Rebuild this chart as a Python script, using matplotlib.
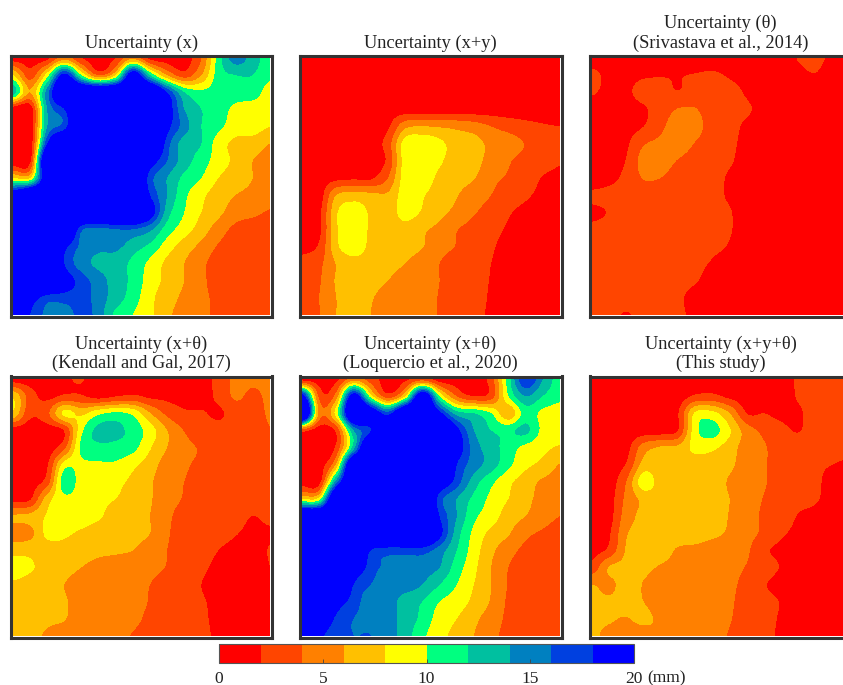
import numpy as np
import matplotlib as mpl
mpl.use('agg')
import matplotlib.pyplot as plt
from matplotlib.colors import ListedColormap, BoundaryNorm
from matplotlib.patches import Rectangle

plt.rcParams['font.family'] = ['Liberation Serif', 'DejaVu Serif']

W, H = 843, 685

levels = [0, 2, 4, 6, 8, 10, 12, 14, 16, 18, 20]
colors = ['#ff0000', '#ff4500', '#ff8000', '#ffc000', '#ffff00',
          '#00ff80', '#00c0a0', '#0080c0', '#0040e0', '#0000ff']
cbar_ticks = [0, 5, 10, 15, 20]

titles = ['Uncertainty (x)', 'Uncertainty (x+y)',
          'Uncertainty (θ)\n(Srivastava et al., 2014)',
          'Uncertainty (x+θ)\n(Kendall and Gal, 2017)',
          'Uncertainty (x+θ)\n(Loquercio et al., 2020)',
          'Uncertainty (x+y+θ)\n(This study)']

# values in mm, top row first, 16 x 16 samples per panel
u_x = [
    [1, 1, 1.5, 5, 2, 1, 2, 5.5, 1.5, 1, 1, 4, 11, 15, 13, 11],
    [8, 3, 9, 19, 10, 4, 8, 21, 12, 6, 3, 6, 11, 12, 12, 10.5],
    [13, 6, 15, 25, 25, 25, 25, 25, 25, 18, 12, 10.5, 11, 11, 11, 9],
    [0.5, 0.5, 14, 18, 25, 25, 25, 25, 25, 20, 14, 12, 11, 9.5, 9, 9],
    [0.5, 0.5, 14, 17, 25, 25, 25, 25, 25, 19, 15, 12, 10.5, 9, 9, 8],
    [0.5, 0.5, 18, 25, 25, 25, 25, 25, 25, 17, 13, 12, 9, 7.5, 7, 6],
    [0.5, 1.5, 25, 25, 25, 25, 25, 25, 20, 16, 13, 11, 9, 7.5, 6, 5.5],
    [8, 8, 22, 25, 25, 25, 25, 25, 17, 14, 11.5, 10, 8, 7, 6, 5.5],
    [21, 25, 25, 25, 25, 25, 25, 25, 18, 14, 10.5, 8.5, 7, 6, 5.5, 5],
    [25, 25, 25, 25, 25, 25, 25, 25, 20, 13, 10, 8, 6.5, 5, 4.5, 3.8],
    [25, 25, 25, 25, 16.5, 15.5, 16, 16, 14.5, 11, 9, 7, 5, 3.5, 3, 3],
    [25, 25, 25, 19, 15.5, 14.5, 14.5, 13, 11.5, 9, 7, 5.5, 3.8, 3, 3, 3],
    [25, 25, 25, 18, 15, 13.5, 13, 11.5, 9.5, 7.5, 6, 4.5, 3, 3, 3, 3],
    [25, 25, 25, 20, 17, 15, 13, 11.5, 9, 7.5, 6, 4.5, 3, 3, 3, 3],
    [25, 20, 17, 17, 17, 15, 13, 11, 8.5, 7, 5.5, 4.5, 3.5, 3, 3, 3],
    [25, 18, 15.5, 14.5, 17, 15, 11.5, 10, 8.5, 6.5, 5, 4.5, 3.5, 3, 3, 3],
]
u_xy = [
    [0.5] * 16,
    [0.5] * 16,
    [0.5] * 16,
    [1] * 16,
    [1, 1, 1, 1, 1, 1.7, 5.5, 6, 5.8, 5.5, 5, 4, 3.2, 2.6, 2.2, 2],
    [1, 1, 1, 1, 1, 3, 9, 9.5, 8.5, 7, 6.7, 5.5, 5, 3.9, 3, 2.7],
    [1, 1, 1, 1, 1, 2.5, 9, 9.5, 8.3, 7, 6.7, 5.2, 4.2, 3.3, 2.8, 2.2],
    [1, 1, 1.5, 1.7, 1.7, 4, 9, 9.2, 7.5, 6.7, 6.1, 4.5, 3.8, 3, 1.9, 1.5],
    [1, 1, 6, 6.8, 6.5, 6.3, 9, 8.2, 7, 6.1, 5, 4, 3, 2.3, 1.5, 1],
    [1, 1.5, 7.7, 9.2, 7.7, 7, 8.8, 7.8, 6.5, 5.5, 4.2, 3.2, 2.2, 1.5, 1, 1],
    [1, 1.5, 7.7, 9.4, 7.7, 7, 7.3, 6.3, 5.5, 4.1, 3.3, 2.5, 1.8, 1, 1, 1],
    [1.5, 2.3, 7.5, 9.2, 7.5, 7, 6.8, 6.1, 4.7, 3.9, 3, 2.2, 1.5, 1, 1, 1],
    [2.5, 3.5, 6.1, 7.2, 7, 6.6, 6, 5, 4, 3.2, 2.8, 2, 1.3, 1, 1, 1],
    [3, 3.8, 6.2, 7, 6.5, 6, 5.2, 4.8, 4, 3.2, 2.6, 1.9, 1, 1, 1, 1],
    [3, 4, 6, 6.5, 6.1, 5.5, 5.2, 4.6, 3.9, 3, 2.6, 1.8, 1, 1, 1, 1],
    [3, 3.9, 6, 6.4, 6, 5.3, 5, 4.6, 3.9, 3, 2.5, 1.7, 1, 1, 1, 1],
]
u_theta = [
    [1, 1, 1, 1, 1, 1, 1, 1, 1, 1, 1, 1, 2.1, 2.5, 1.5, 1],
    [2.5, 1.5, 1.5, 1.8, 1.9, 1.9, 2.1, 2.3, 1.8, 1.3, 1, 1, 1.5, 1.9, 1, 1],
    [2.2, 1.5, 1.7, 2.6, 2.6, 2.1, 2.8, 3, 2.6, 1.8, 1, 1, 1, 1, 1, 1],
    [1, 1, 1.3, 1.8, 2.8, 4.1, 4.1, 3, 2.6, 2.2, 1.5, 1, 1, 1, 1, 1],
    [1, 1, 1.3, 2, 3.5, 5.3, 4.8, 3, 2.5, 1.7, 1, 1, 1, 1, 1, 1],
    [1, 1, 1.7, 3.8, 4.5, 5.2, 3.9, 3, 2.4, 1.5, 1, 1, 1, 1, 1, 1],
    [1, 1.2, 2.1, 4.8, 5, 3.9, 3, 2.6, 2.2, 1.3, 1, 1, 1, 1, 1, 1],
    [1, 1.5, 2.5, 4.1, 4, 3, 2.8, 2.5, 1.8, 1, 1, 1, 1, 1, 1, 1],
    [2.3, 2.5, 2.8, 3, 3, 2.9, 2.7, 2.4, 1.8, 1, 1, 1, 1, 1, 1, 1],
    [1.7, 2.1, 2.8, 3, 3, 2.9, 2.7, 2.4, 2.1, 1.2, 1, 1, 1, 1, 1, 1],
    [2.3, 2.5, 2.7, 3, 3, 2.8, 2.6, 2.3, 2.1, 1.3, 1, 1, 1, 1, 1, 1],
    [2.5, 2.7, 2.8, 3, 3, 2.8, 2.5, 2.2, 1.9, 1, 1, 1, 1, 1, 1, 1],
    [2.5, 2.7, 2.8, 2.9, 2.8, 2.6, 2.3, 1.9, 1.5, 1, 1, 1, 1, 1, 1, 1],
    [2.6, 2.7, 2.7, 2.7, 2.6, 2.4, 2.1, 1.5, 1, 1, 1, 1, 1, 1, 1, 1],
    [2.5, 2.6, 2.6, 2.6, 2.4, 2.2, 1.6, 1.3, 1, 1, 1, 1, 1, 1, 1, 1],
    [2.5, 2.4, 1.9, 2.5, 2.4, 2.2, 1.7, 1, 1, 1, 1, 1, 1, 1, 1, 1],
]
u_x_theta_kendall = [
    [1, 1, 1, 1.7, 2.1, 1, 1, 1, 1, 1, 1, 1.5, 2.5, 4.5, 4.5, 4.5],
    [7.6, 3, 1.5, 2.3, 2.2, 1.2, 1.9, 2.3, 1.6, 1.5, 1.3, 1.2, 2.5, 4.3, 3.5, 4.5],
    [7.6, 2.5, 3.5, 8.5, 7.5, 9.5, 10.3, 9.5, 6.1, 3.5, 2.3, 2.2, 1.7, 2.9, 3, 4.3],
    [1, 1, 1, 2.2, 9.5, 12.6, 12.6, 11.2, 9, 6, 3.9, 3, 2.7, 2.8, 2.9, 3.9],
    [1, 1, 1, 3.5, 10.5, 11.5, 11.3, 10.6, 8.2, 6, 4.5, 3.8, 3, 3, 2.9, 3.4],
    [1, 1, 1.8, 9, 9.5, 9.7, 9.7, 8.5, 7, 5, 4.2, 3.7, 3, 3, 2.9, 3.2],
    [1, 1.2, 3, 11.2, 9, 9, 8.6, 7.5, 6.3, 4.6, 4, 3.5, 3, 3, 2.8, 3],
    [1.3, 1.8, 7, 9.5, 9, 8.5, 8, 7, 6.2, 4.5, 3.9, 3.2, 3, 2.9, 2.8, 2.9],
    [6.2, 6.5, 8.2, 9.5, 9, 8.3, 7, 6.7, 6, 4.3, 3.6, 3.1, 2.8, 2.6, 2, 2.4],
    [5, 5.4, 8.5, 8.3, 7.7, 7, 6.8, 6.6, 6, 4.2, 3.4, 3, 2.6, 2.1, 1.6, 1.8],
    [7.2, 7.4, 7, 7.5, 7, 6.5, 6.3, 6, 5, 4, 3.3, 2.8, 2, 1.5, 1.2, 2.1],
    [9.3, 8.3, 7.2, 6.8, 6, 5.3, 5, 4.8, 4.5, 3.9, 3, 2.4, 1.5, 1, 1, 2],
    [7.6, 7, 6.8, 6, 5, 4.8, 4.7, 4.5, 4, 3.2, 2.8, 2, 1, 1, 1, 1.9],
    [7, 6.8, 6.5, 6.2, 5, 4.8, 4.7, 4.5, 3.9, 3, 2.8, 2.2, 1.5, 1, 1, 1.5],
    [6.8, 6.6, 6.3, 6.1, 4.9, 4.7, 4.6, 4.4, 3.6, 3, 2.7, 2.2, 1.7, 1, 1, 1],
    [6.6, 6.3, 5.8, 5, 4.8, 4.6, 4.4, 3.9, 3.2, 2.9, 2.7, 2.2, 1.8, 1, 1, 1],
]
u_x_theta_loquercio = [
    [1, 1, 1.5, 5, 3, 1, 1.5, 3, 1, 1, 1, 3, 11, 18, 14, 11],
    [20, 3.5, 5, 20, 9, 3, 8, 22, 10, 4, 2, 3, 10, 14, 12, 10.5],
    [28, 5.5, 9, 25, 22, 17, 25, 25, 19, 13, 12, 10, 6.5, 11, 9.5, 9],
    [3, 1, 2.5, 14, 18, 25, 25, 25, 25, 19, 14, 12, 11.5, 12.5, 9.5, 8.8],
    [1, 0.5, 2.5, 13, 25, 25, 25, 25, 25, 20, 15, 13, 11, 9.5, 8.5, 7.8],
    [1, 1, 6.5, 25, 25, 25, 25, 25, 25, 18, 15, 13, 10.5, 8.5, 7.5, 5.9],
    [1, 1.2, 15, 25, 25, 25, 25, 25, 21, 17, 13, 10.5, 8.5, 7, 5.7, 5.3],
    [8, 9, 25, 25, 25, 25, 25, 25, 17, 14, 11.5, 9.5, 8, 6.5, 5.5, 5],
    [25, 25, 25, 25, 25, 25, 25, 25, 18, 14, 10.5, 9, 7, 6, 5, 4],
    [25, 25, 25, 25, 25, 25, 25, 25, 19, 13, 9.5, 7.5, 6.2, 4.5, 3.7, 3],
    [25, 25, 25, 25, 18, 17, 17, 17, 15, 12, 9, 6.5, 4.8, 3.5, 3, 3],
    [25, 25, 25, 21, 17, 15.5, 15, 15, 14, 11, 8.5, 6, 4, 3, 3, 3],
    [25, 25, 25, 18, 16, 15, 15, 14, 12, 10, 8, 6, 3.9, 3, 3, 3],
    [25, 25, 20, 17, 15, 15, 13, 12, 10, 9, 7.5, 5.8, 3.7, 3, 3, 3],
    [25, 22, 17.5, 16, 15.5, 15, 13, 11.5, 9, 8, 6.5, 5, 3.6, 3, 3, 3],
    [25, 19, 16.5, 16, 16, 15, 13, 10.5, 8.5, 7.5, 6, 4.5, 3.5, 3, 3, 3],
]
u_x_y_theta = [
    [1, 1, 1, 1, 1, 1, 1, 1, 1, 1, 1, 1.5, 2.2, 3, 3, 3],
    [1, 1, 1, 1, 1, 1, 2.3, 2.5, 1.5, 1, 1, 1, 2.2, 3, 3, 3],
    [1, 1, 1, 1, 1, 1.9, 8.3, 8.6, 6, 2, 2, 1.5, 1.7, 3, 3, 3],
    [1, 1, 1, 1, 1, 2, 9.2, 10.8, 8.2, 5, 3.5, 2.5, 1.9, 3, 3, 3],
    [1, 1, 1.3, 5, 6.2, 6.4, 8.6, 8.4, 7, 5, 4.2, 3, 3, 3, 3, 3],
    [1, 1, 2.2, 6.7, 6.5, 6.7, 7, 7, 6.4, 5, 4.2, 3, 2.8, 2.4, 2, 1.5],
    [1, 1, 4, 9.2, 7, 7, 7, 7, 5.8, 5, 4.2, 3, 2.7, 2.4, 1.2, 1],
    [1, 1.2, 4.5, 6.5, 7, 7, 7, 7, 6, 5, 3.9, 3, 2.6, 2.2, 1.2, 1],
    [1, 1.3, 5, 6.5, 7, 7, 7, 6.9, 5.9, 4.8, 3.7, 3, 1.9, 1.5, 1, 1],
    [1, 1.8, 5.8, 6.5, 7, 7, 7, 6.5, 5.7, 4.7, 3.6, 2.3, 1.6, 1.2, 1, 1],
    [1.3, 2.5, 6.2, 7, 6.8, 5.8, 5.5, 5, 4.9, 4.3, 2.4, 1.6, 1.5, 1, 1, 1],
    [2.8, 6.1, 6.5, 6.5, 5.8, 5.5, 5, 4.8, 4.5, 3.9, 3, 1.9, 1.5, 1, 1, 1],
    [6, 5.5, 6.9, 5.9, 5, 5, 4.8, 4.6, 4.3, 3.5, 2.2, 1.3, 1.3, 1, 1, 1],
    [6.5, 6.3, 6.5, 6, 5, 5, 4.8, 4.6, 4.2, 3.4, 2.7, 1.9, 1.2, 1, 1, 1],
    [6.3, 6.2, 5.9, 6.5, 5.5, 5, 4.7, 4.6, 4.1, 3.3, 2.6, 1.8, 1.1, 1, 1, 1],
    [6.3, 5.5, 4.8, 5, 6, 5.4, 4.7, 4.5, 3.9, 3.1, 2.5, 1.7, 1, 1, 1, 1],
]
panels = [u_x, u_xy, u_theta, u_x_theta_kendall, u_x_theta_loquercio, u_x_y_theta]

# frame boxes in pixels: left, top, right, bottom
frames = [(10.5, 55.5, 272, 317), (299.5, 55.5, 561.5, 317), (589.5, 55.5, 852, 317),
          (10.5, 376.5, 272, 638), (299.5, 376.5, 561.5, 638), (589.5, 376.5, 852, 638)]


def px_axes(box):
    l, t, r, b = box
    return fig.add_axes([l / W, 1 - b / H, (r - l) / W, (b - t) / H])


cmap = ListedColormap(colors)
cmap.set_over(colors[-1])
cmap.set_under(colors[0])
norm = BoundaryNorm(levels, cmap.N)

fig = plt.figure(figsize=(W / 100, H / 100), dpi=100)

for i in range(6):
    ax = px_axes(frames[i])
    z = np.array(panels[i])
    half = 0.5 / (z.shape[1] - 1)
    # catrom on the data side gives the smooth band edges of a contour plot
    im = ax.imshow(z, extent=(-half, 1 + half, -half, 1 + half), cmap=cmap, norm=norm,
                   interpolation='catrom', interpolation_stage='data', aspect='auto')
    im.set_clip_path(Rectangle((0, 0), 1, 1, transform=ax.transData))
    ax.set_xlim(-0.009, 1.009)
    ax.set_ylim(-0.009, 1.009)
    ax.set_xticks([])
    ax.set_yticks([])
    for s in ax.spines.values():
        s.set_linewidth(2.2)
        s.set_color('#333333')
    l, t, r, b = frames[i]
    fig.text((l + r) / 2 / W, 1 - (t - 4) / H, titles[i], ha='center', va='bottom',
             fontsize=13.2, color='#222222', linespacing=1.13)

cax = px_axes((219, 644, 634, 663))
cb = fig.colorbar(mpl.cm.ScalarMappable(norm=norm, cmap=cmap), cax=cax,
                  orientation='horizontal', ticks=cbar_ticks, spacing='proportional')
cb.ax.minorticks_off()
cb.ax.tick_params(direction='in', length=3, width=0.6, color='#444444', pad=6,
                  labelsize=12.5, labelcolor='#222222')
cb.outline.set_linewidth(0.8)
cb.outline.set_edgecolor('#555555')
fig.text(647 / W, 1 - 678 / H, '(mm)', ha='left', va='center', fontsize=12.5, color='#222222')

fig.savefig('out.png', dpi=100)
